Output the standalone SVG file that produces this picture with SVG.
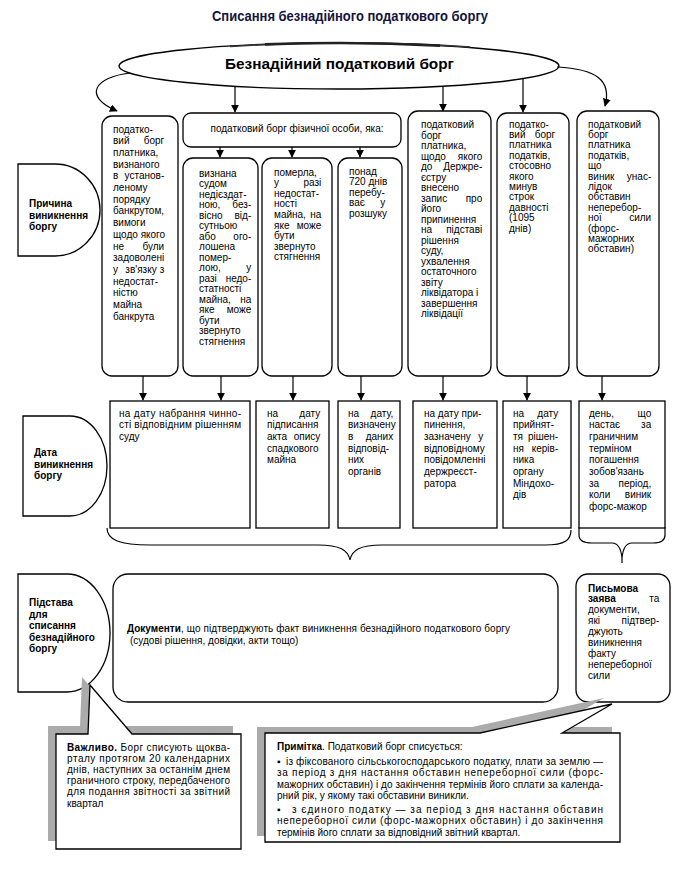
<svg xmlns="http://www.w3.org/2000/svg" width="678" height="875" viewBox="0 0 678 875">
<defs>
<marker id="ah" viewBox="0 0 10 10" refX="9" refY="5" markerWidth="8" markerHeight="8" markerUnits="userSpaceOnUse" orient="auto"><path d="M0,0 L10,5 L0,10 Z" fill="#000"/></marker>
<style>
.box{fill:#fff;stroke:#000;stroke-width:1.3}
.conn{fill:none;stroke:#000;stroke-width:1.2}
.t{font-family:"Liberation Sans",Arial,sans-serif;font-size:10px;fill:#000}
.b{font-weight:bold}
.lbl{font-family:"Liberation Sans",Arial,sans-serif;font-size:10px;font-weight:bold;fill:#000}
.e{text-anchor:end}
.m{text-anchor:middle}
.sh{fill:#ababab;stroke:none}
</style>
</defs>
<rect width="678" height="875" fill="#fff"/>

<g id="title">
<text x="350" y="21" text-anchor="middle" textLength="276" lengthAdjust="spacingAndGlyphs" style="font-family:'Liberation Sans Narrow','Liberation Sans',Arial,sans-serif;font-size:14px;font-weight:bold;fill:#14143c">Списання безнадійного податкового боргу</text>
</g>

<g id="root">
<ellipse cx="339" cy="66" rx="220" ry="23" class="box"/>
<path d="M230,46.5 A220,23 0 0 1 470,47" fill="none" stroke="#333" stroke-width="1.6"/>
<path d="M265,44.4 A220,23 0 0 1 440,45.6" fill="none" stroke="#222" stroke-width="2.6"/>
<text x="339.5" y="68.5" class="t b m" style="font-size:15px" textLength="229" lengthAdjust="spacingAndGlyphs">Безнадійний податковий борг</text>
</g>

<g id="connectors">
<path class="conn" d="M130,73 C95,77 82,96 117,111" marker-end="url(#ah)"/>
<path class="conn" d="M235,86 V112" marker-end="url(#ah)"/>
<path class="conn" d="M443,86 V111" marker-end="url(#ah)"/>
<path class="conn" d="M523,79 V112" marker-end="url(#ah)"/>
<path class="conn" d="M557,67 C596,69 612,80 605,106" marker-end="url(#ah)"/>
<path class="conn" d="M220,147 V157" marker-end="url(#ah)"/>
<path class="conn" d="M292,147 V157" marker-end="url(#ah)"/>
<path class="conn" d="M360,147 V157" marker-end="url(#ah)"/>
<path class="conn" d="M143,376 V400" marker-end="url(#ah)"/>
<path class="conn" d="M221,376 V400" marker-end="url(#ah)"/>
<path class="conn" d="M293,376 V400" marker-end="url(#ah)"/>
<path class="conn" d="M361,376 V400" marker-end="url(#ah)"/>
<path class="conn" d="M443,376 V400" marker-end="url(#ah)"/>
<path class="conn" d="M527,376 V400" marker-end="url(#ah)"/>
<path class="conn" d="M602,376 V400" marker-end="url(#ah)"/>
<path class="conn" d="M107,528 C107,540 120,545 150,545 H318 C340,545 348,550 350,560 C352,550 360,545 382,545 H545 C565,545 571,540 571,530"/>
<path class="conn" d="M579,527 V535 C579,541 584,543 592,543 H612 C618,543 621,548 622,558 C623,548 626,543 632,543 H653 C660,543 665,541 665,535 V527 M622,556 V563"/>
</g>

<g id="label-cause">
<path class="box" d="M18,164 H55 A45,46 0 0 1 55,256 H18 Z"/>
<text class="lbl"><tspan x="29" y="207">Причина</tspan><tspan x="29" y="218.5">виникнення</tspan><tspan x="29" y="230">боргу</tspan></text>
</g>
<g id="label-date">
<path class="box" d="M23,416 H70 A37,50 0 0 1 70,516 H23 Z"/>
<text class="lbl"><tspan x="34" y="456">Дата</tspan><tspan x="34" y="467.5">виникнення</tspan><tspan x="34" y="479">боргу</tspan></text>
</g>
<g id="label-basis">
<path class="box" d="M18,574 H67 A43,59 0 0 1 67,692 H18 Z"/>
<text class="lbl"><tspan x="29" y="606">Підстава</tspan><tspan x="29" y="617.5">для</tspan><tspan x="29" y="629">списання</tspan><tspan x="29" y="640.5">безнадійного</tspan><tspan x="29" y="652">боргу</tspan></text>
</g>

<g id="cause-bankrupt">
<rect class="box" x="102" y="116" width="76" height="260" rx="10"/>
<text class="t">
<tspan x="113" y="132.5">податко-</tspan>
<tspan x="113" y="144.2">вий</tspan><tspan x="167" y="144.2" class="e">борг</tspan>
<tspan x="113" y="155.9">платника,</tspan>
<tspan x="113" y="167.6">визнаного</tspan>
<tspan x="113" y="179.3">в</tspan><tspan x="167" y="179.3" class="e">установ-</tspan>
<tspan x="113" y="191">леному</tspan>
<tspan x="113" y="202.7">порядку</tspan>
<tspan x="113" y="214.4">банкрутом,</tspan>
<tspan x="113" y="226.1">вимоги</tspan>
<tspan x="113" y="237.8">щодо якого</tspan>
<tspan x="113" y="249.5">не</tspan><tspan x="167" y="249.5" class="e">були</tspan>
<tspan x="113" y="261.2">задоволені</tspan>
<tspan x="113" y="272.9">у</tspan><tspan x="141" y="272.9" class="m">зв'язку</tspan><tspan x="167" y="272.9" class="e">з</tspan>
<tspan x="113" y="284.6">недостат-</tspan>
<tspan x="113" y="296.3">ністю</tspan>
<tspan x="113" y="308">майна</tspan>
<tspan x="113" y="319.7">банкрута</tspan>
</text>
</g>

<g id="cause-person">
<rect class="box" x="183" y="113" width="218" height="34" rx="8"/>
<text class="t m" x="297" y="131.5">податковий борг фізичної особи, яка:</text>
</g>

<g id="cause-incapable">
<rect class="box" x="183" y="158" width="75" height="218" rx="10"/>
<text class="t">
<tspan x="199" y="176.5">визнана</tspan>
<tspan x="199" y="187">судом</tspan>
<tspan x="199" y="197.5">недієздат-</tspan>
<tspan x="199" y="208">ною,</tspan><tspan x="254" y="208" class="e">без-</tspan>
<tspan x="199" y="218.5">вісно</tspan><tspan x="254" y="218.5" class="e">від-</tspan>
<tspan x="199" y="229">сутньою</tspan>
<tspan x="199" y="239.5">або</tspan><tspan x="254" y="239.5" class="e">ого-</tspan>
<tspan x="199" y="250">лошена</tspan>
<tspan x="199" y="260.5">помер-</tspan>
<tspan x="199" y="271">лою,</tspan><tspan x="254" y="271" class="e">у</tspan>
<tspan x="199" y="281.5">разі</tspan><tspan x="254" y="281.5" class="e">недо-</tspan>
<tspan x="199" y="292">статності</tspan>
<tspan x="199" y="302.5">майна,</tspan><tspan x="254" y="302.5" class="e">на</tspan>
<tspan x="199" y="313">яке</tspan><tspan x="254" y="313" class="e">може</tspan>
<tspan x="199" y="323.5">бути</tspan>
<tspan x="199" y="334">звернуто</tspan>
<tspan x="199" y="344.5">стягнення</tspan>
</text>
</g>

<g id="cause-died">
<rect class="box" x="262" y="158" width="70" height="218" rx="10"/>
<text class="t">
<tspan x="274" y="175.5">померла,</tspan>
<tspan x="274" y="186.1">у</tspan><tspan x="324" y="186.1" class="e">разі</tspan>
<tspan x="274" y="196.7">недостат-</tspan>
<tspan x="274" y="207.3">ності</tspan>
<tspan x="274" y="217.9">майна,</tspan><tspan x="324" y="217.9" class="e">на</tspan>
<tspan x="274" y="228.5">яке</tspan><tspan x="324" y="228.5" class="e">може</tspan>
<tspan x="274" y="239.1">бути</tspan>
<tspan x="274" y="249.7">звернуто</tspan>
<tspan x="274" y="260.3">стягнення</tspan>
</text>
</g>

<g id="cause-wanted">
<rect class="box" x="338" y="158" width="64" height="218" rx="10"/>
<text class="t">
<tspan x="349" y="174.5">понад</tspan>
<tspan x="349" y="185.1">720 днів</tspan>
<tspan x="349" y="195.7">перебу-</tspan>
<tspan x="349" y="206.3">ває</tspan><tspan x="388" y="206.3" class="e">у</tspan>
<tspan x="349" y="216.9">розшуку</tspan>
</text>
</g>

<g id="cause-terminated">
<rect class="box" x="408" y="111" width="83" height="265" rx="10"/>
<text class="t">
<tspan x="421" y="128">податковий</tspan>
<tspan x="421" y="138.5">борг</tspan>
<tspan x="421" y="149">платника,</tspan>
<tspan x="421" y="159.5">щодо</tspan><tspan x="485" y="159.5" class="e">якого</tspan>
<tspan x="421" y="170">до</tspan><tspan x="485" y="170" class="e">Держре-</tspan>
<tspan x="421" y="180.5">єстру</tspan>
<tspan x="421" y="191">внесено</tspan>
<tspan x="421" y="201.5">запис</tspan><tspan x="485" y="201.5" class="e">про</tspan>
<tspan x="421" y="212">його</tspan>
<tspan x="421" y="222.5">припинення</tspan>
<tspan x="421" y="233">на</tspan><tspan x="485" y="233" class="e">підставі</tspan>
<tspan x="421" y="243.5">рішення</tspan>
<tspan x="421" y="254">суду,</tspan>
<tspan x="421" y="264.5">ухвалення</tspan>
<tspan x="421" y="275">остаточного</tspan>
<tspan x="421" y="285.5">звіту</tspan>
<tspan x="421" y="296">ліквідатора і</tspan>
<tspan x="421" y="306.5">завершення</tspan>
<tspan x="421" y="317">ліквідації</tspan>
</text>
</g>

<g id="cause-prescription">
<rect class="box" x="497" y="113" width="72" height="263" rx="10"/>
<text class="t">
<tspan x="509" y="127.5">податко-</tspan>
<tspan x="509" y="137.9">вий</tspan><tspan x="558" y="137.9" class="e">борг</tspan>
<tspan x="509" y="148.3">платника</tspan>
<tspan x="509" y="158.7">податків,</tspan>
<tspan x="509" y="169.1">стосовно</tspan>
<tspan x="509" y="179.5">якого</tspan>
<tspan x="509" y="189.9">минув</tspan>
<tspan x="509" y="200.3">строк</tspan>
<tspan x="509" y="210.7">давності</tspan>
<tspan x="509" y="221.1">(1095</tspan>
<tspan x="509" y="231.5">днів)</tspan>
</text>
</g>

<g id="cause-forcemajeure">
<rect class="box" x="577" y="111" width="82" height="265" rx="10"/>
<text class="t">
<tspan x="588" y="127.5">податковий</tspan>
<tspan x="588" y="137.9">борг</tspan>
<tspan x="588" y="148.3">платника</tspan>
<tspan x="588" y="158.7">податків,</tspan>
<tspan x="588" y="169.1">що</tspan>
<tspan x="588" y="179.5">виник</tspan><tspan x="654" y="179.5" class="e">унас-</tspan>
<tspan x="588" y="189.9">лідок</tspan>
<tspan x="588" y="200.3">обставин</tspan>
<tspan x="588" y="210.7">неперебор-</tspan>
<tspan x="588" y="221.1">ної</tspan><tspan x="654" y="221.1" class="e">сили</tspan>
<tspan x="588" y="231.5">(форс-</tspan>
<tspan x="588" y="241.9">мажорних</tspan>
<tspan x="588" y="252.3">обставин)</tspan>
</text>
</g>

<g id="date-court">
<rect class="box" x="110" y="401" width="140" height="127"/>
<text class="t" x="119" y="416.5" textLength="122" lengthAdjust="spacing">на дату набрання чинно-</text>
<text class="t" x="119" y="428.2" textLength="122" lengthAdjust="spacing">сті відповідним рішенням</text>
<text class="t" x="119" y="439.9">суду</text>
</g>

<g id="date-inheritance">
<rect class="box" x="256" y="401" width="73" height="127"/>
<text class="t">
<tspan x="267" y="416.5">на</tspan><tspan x="323" y="416.5" class="e">дату</tspan>
<tspan x="267" y="428.2">підписання</tspan>
<tspan x="267" y="439.9">акта</tspan><tspan x="323" y="439.9" class="e">опису</tspan>
<tspan x="267" y="451.6">спадкового</tspan>
<tspan x="267" y="463.3">майна</tspan>
</text>
</g>

<g id="date-wanted">
<rect class="box" x="338" y="401" width="62" height="127"/>
<text class="t">
<tspan x="348" y="416.5">на</tspan><tspan x="396" y="416.5" class="e">дату,</tspan>
<tspan x="348" y="428.2">визначену</tspan>
<tspan x="348" y="439.9">в</tspan><tspan x="396" y="439.9" class="e">даних</tspan>
<tspan x="348" y="451.6">відповід-</tspan>
<tspan x="348" y="463.3">них</tspan>
<tspan x="348" y="475">органів</tspan>
</text>
</g>

<g id="date-termination">
<rect class="box" x="413" y="401" width="84" height="127"/>
<text class="t">
<tspan x="424" y="416.5">на дату при-</tspan>
<tspan x="424" y="428.2">пинення,</tspan>
<tspan x="424" y="439.9">зазначену</tspan><tspan x="486" y="439.9" class="e">у</tspan>
<tspan x="424" y="451.6">відповідному</tspan>
<tspan x="424" y="463.3">повідомленні</tspan>
<tspan x="424" y="475">держреєст-</tspan>
<tspan x="424" y="486.7">ратора</tspan>
</text>
</g>

<g id="date-decision">
<rect class="box" x="503" y="401" width="68" height="127"/>
<text class="t">
<tspan x="513" y="416.5">на</tspan><tspan x="561" y="416.5" class="e">дату</tspan>
<tspan x="513" y="428.2">прийнят-</tspan>
<tspan x="513" y="439.9">тя</tspan><tspan x="561" y="439.9" class="e">рішен-</tspan>
<tspan x="513" y="451.6">ня</tspan><tspan x="561" y="451.6" class="e">керів-</tspan>
<tspan x="513" y="463.3">ника</tspan>
<tspan x="513" y="475">органу</tspan>
<tspan x="513" y="486.7">Міндохо-</tspan>
<tspan x="513" y="498.4">дів</tspan>
</text>
</g>

<g id="date-forcemajeure">
<rect class="box" x="579" y="401" width="86" height="127"/>
<text class="t">
<tspan x="589" y="416.5">день,</tspan><tspan x="654" y="416.5" class="e">що</tspan>
<tspan x="589" y="428.2">настає</tspan><tspan x="654" y="428.2" class="e">за</tspan>
<tspan x="589" y="439.9">граничним</tspan>
<tspan x="589" y="451.6">терміном</tspan>
<tspan x="589" y="463.3">погашення</tspan>
<tspan x="589" y="475">зобов'язань</tspan>
<tspan x="589" y="486.7">за</tspan><tspan x="654" y="486.7" class="e">період,</tspan>
<tspan x="589" y="498.4">коли</tspan><tspan x="654" y="498.4" class="e">виник</tspan>
<tspan x="589" y="510.1">форс-мажор</tspan>
</text>
</g>

<g id="basis-documents">
<rect class="box" x="113" y="574" width="445" height="128" rx="15"/>
<text class="t b" x="127" y="632">Документи</text>
<text class="t" x="181" y="632" textLength="329" lengthAdjust="spacing">, що підтверджують факт виникнення безнадійного податкового боргу</text>
<text class="t" x="130" y="644">(судові рішення, довідки, акти тощо)</text>
</g>

<g id="basis-application">
<rect class="box" x="576" y="574" width="94" height="128" rx="12"/>
<text class="t">
<tspan x="588" y="591.5" class="b">Письмова</tspan>
<tspan x="588" y="602.4" class="b">заява</tspan><tspan x="662" y="602.4" class="e">та</tspan>
<tspan x="588" y="613.3">документи,</tspan>
<tspan x="588" y="624.2">які</tspan><tspan x="662" y="624.2" class="e">підтвер-</tspan>
<tspan x="588" y="635.1">джують</tspan>
<tspan x="588" y="646">виникнення</tspan>
<tspan x="588" y="656.9">факту</tspan>
<tspan x="588" y="667.8">непереборної</tspan>
<tspan x="588" y="678.7">сили</tspan>
</text>
</g>

<g id="note-important">
<path class="sh" d="M48,726 H80 L82,677 L124,726 H233 V841 H48 Z"/>
<path class="box" d="M56,734 H88 L90,685 L132,734 H241 V849 H56 Z"/>
<text class="t" x="67" y="750.5" textLength="163" lengthAdjust="spacing"><tspan class="b">Важливо.</tspan> Борг списують щоква-</text>
<text class="t" x="67" y="761.7" textLength="163" lengthAdjust="spacing">рталу протягом 20 календарних</text>
<text class="t" x="67" y="772.9" textLength="163" lengthAdjust="spacing">днів, наступних за останнім днем</text>
<text class="t" x="67" y="784.1" textLength="163" lengthAdjust="spacing">граничного строку, передбаченого</text>
<text class="t" x="67" y="795.3" textLength="163" lengthAdjust="spacing">для подання звітності  за звітний</text>
<text class="t" x="67" y="806.5">квартал</text>
</g>

<g id="note-remark">
<path class="sh" d="M257,727 H472 L604,698 L554,727 H612 V836 H257 Z"/>
<path class="box" d="M265,733 H480 L612,704 L562,733 H620 V842 H265 Z"/>
<text class="t" x="277" y="749.5"><tspan class="b">Примітка</tspan>. Податковий борг списується:</text>
<text class="t" x="277" y="764.5">▪</text>
<text class="t" x="286" y="764.5" textLength="317" lengthAdjust="spacing">із фіксованого сільськогосподарського податку, плати за землю —</text>
<text class="t" x="277" y="776" textLength="326" lengthAdjust="spacing">за період з дня настання обставин непереборної сили (форс-</text>
<text class="t" x="277" y="787.5" textLength="326" lengthAdjust="spacing">мажорних обставин) і до закінчення термінів його сплати за календа-</text>
<text class="t" x="277" y="799">рний рік, у якому такі обставини виникли.</text>
<text class="t" x="277" y="812.5">▪</text>
<text class="t" x="292" y="812.5" textLength="311" lengthAdjust="spacing">з єдиного податку — за період з дня настання обставин</text>
<text class="t" x="277" y="824" textLength="326" lengthAdjust="spacing">непереборної сили (форс-мажорних обставин) і до закінчення</text>
<text class="t" x="277" y="835.5">термінів його сплати за відповідний звітний квартал.</text>
</g>
</svg>
